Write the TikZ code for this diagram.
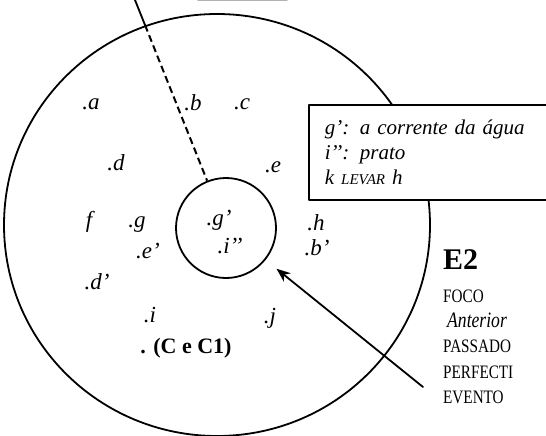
\documentclass[tikz,border=0pt]{standalone}
\usepackage{fontspec}
\setmainfont{Liberation Serif}
\newfontfamily\estreito[FakeStretch=0.8]{Liberation Serif}
\usetikzlibrary{arrows.meta}
\begin{document}
\begin{tikzpicture}[x=1pt,y=-1pt,line cap=round,line join=round,
	letra/.style={font=\fontsize{23}{25}\selectfont\itshape,inner sep=0pt},
	rotulo/.style={anchor=west,inner sep=0pt,font=\fontsize{19}{21}\selectfont\estreito}]
	\useasboundingbox (0,0) rectangle (546,436);
	
	% circulo maior
	\path[draw=black,line width=1.8pt] (217,225) ellipse [x radius=213,y radius=211];
	\path[draw=gray!60,line width=1.4pt] (198,0.7) -- (287,0.7);
	
	% circulo menor
	\node[draw=black,circle,minimum size=100pt,inner sep=0pt,line width=1.8pt] (inner) at (226,228) {};
	
	% linha tracejada
	\coordinate (topo) at (135,0);
	\coordinate (borda) at (145,25);
	\path[draw=black,line width=1.8pt] (topo) -- (borda);
	\path[draw=black,line width=2pt,line cap=butt,dash pattern=on 7pt off 4pt] (borda) -- (inner);
	
	% caixa
	\node[draw=black,fill=white,line width=1.8pt,anchor=north west,minimum width=260pt,minimum height=95pt,
		text width=228pt,align=left,inner xsep=15pt,font=\fontsize{21}{25}\selectfont\itshape] (nota) at (308,104)
		{g': a corrente da água\\ i'{}': prato\\ k {\fontsize{15}{25}\selectfont LEVAR} h};
	
	% letras
	\node[letra] (la) at (91,104) {.a};
	\node[letra] (lb) at (193,103) {.b};
	\node[letra] (lc) at (242,104) {.c};
	\node[letra] (ld) at (116,163) {.d};
	\node[letra] (le) at (273,167) {.e};
	\node[letra] (lf) at (89,222) {f};
	\node[letra] (lg) at (137,225) {.g};
	\node[letra] (le2) at (148,251) {.e'};
	\node[letra] (ld2) at (97,282) {.d'};
	\node[letra] (lg2) at (219,220) {.g'};
	\node[letra] (li2) at (230,246) {.i'{}'};
	\node[letra] (lh) at (316,223) {.h};
	\node[letra] (lb2) at (317,248) {.b'};
	\node[letra] (li) at (150,315) {.i};
	\node[letra] (lj) at (270,318) {.j};
	\node[inner sep=0pt,font=\fontsize{22}{24}\selectfont\bfseries] (cc) at (186,348) {. (C e C1)};
	
	% seta
	\coordinate (cauda) at (423,387);
	\path[draw=black,line width=1.8pt,-{Stealth[length=14pt,width=11pt]},shorten >=14pt] (cauda) -- (inner);
	
	% rotulos
	\node[rotulo,font=\fontsize{30}{32}\selectfont\bfseries] (e2) at (443,260) {E2};
	\node[rotulo] (foco) at (443,296) {FOCO};
	\node[rotulo,font=\fontsize{22}{24}\selectfont\estreito\itshape] (ant) at (447,320) {Anterior};
	\node[rotulo] (pas) at (443,346) {PASSADO};
	\node[rotulo] (perf) at (443,372) {PERFECTI};
	\node[rotulo] (ev) at (443,397) {EVENTO};
\end{tikzpicture}
\end{document}
